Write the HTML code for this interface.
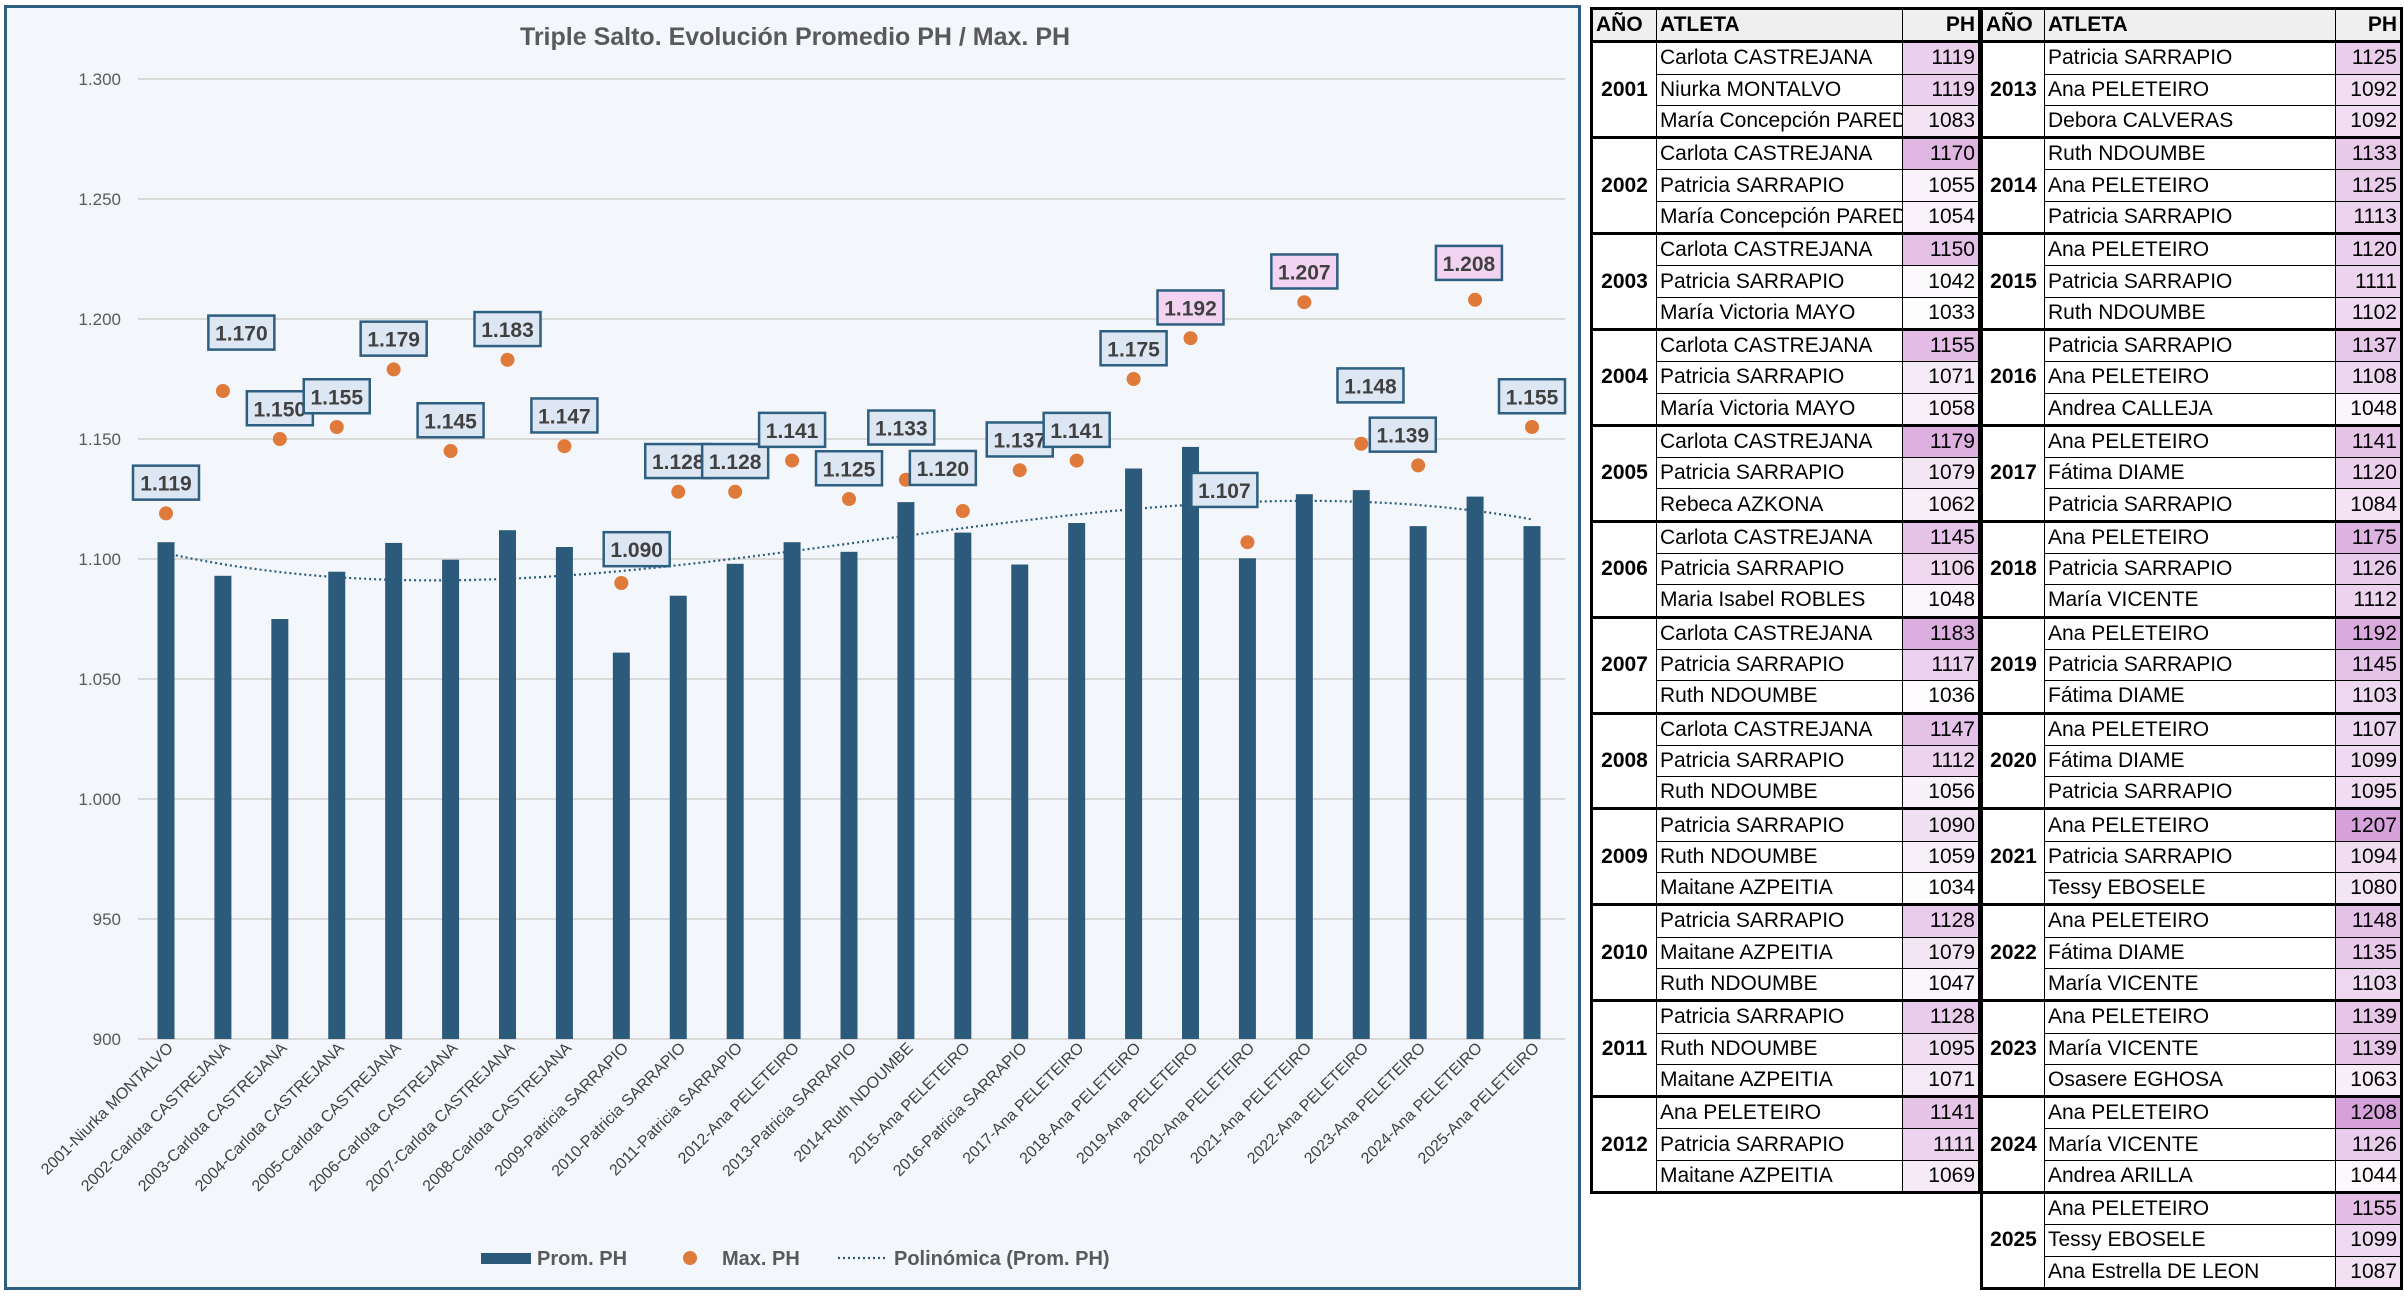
<!DOCTYPE html>
<html><head><meta charset="utf-8">
<style>
html,body{margin:0;padding:0;background:#fff;}
body{width:2404px;height:1302px;position:relative;overflow:hidden;font-family:"Liberation Sans Narrow","Liberation Sans",sans-serif;}
#chart{position:absolute;left:4px;top:5px;width:1577px;height:1285px;border:3px solid #2e5f80;background:#f3f7fb;box-sizing:border-box;}
table{position:absolute;border-collapse:collapse;table-layout:fixed;font-family:"Liberation Sans Narrow","Liberation Sans",sans-serif;font-size:21px;color:#000;}
td,th{border:1.5px solid #000;height:30.3px;padding:0 3px;white-space:nowrap;overflow:hidden;line-height:28px;}
th{background:#efefef;font-weight:bold;text-align:left;}
th.ph,td.ph{text-align:right;}
td.yr{font-weight:bold;text-align:center;border-top:3px solid #000;border-bottom:3px solid #000;}
tr.g td{border-top:3px solid #000;}
</style></head>
<body>
<div id="chart">
<svg id="svg" width="1571" height="1279" xmlns="http://www.w3.org/2000/svg"></svg>
</div>
<table id="t1" style="left:1590px;top:7px;width:391px;border:3px solid #000;">
<colgroup><col style="width:65px"><col style="width:246px"><col style="width:77px"></colgroup>
</table>
<table id="t2" style="left:1980px;top:7px;width:422px;border:3px solid #000;">
<colgroup><col style="width:63px"><col style="width:291px"><col style="width:66px"></colgroup>
</table>
<script>
const years=["2001","2002","2003","2004","2005","2006","2007","2008","2009","2010","2011","2012","2013","2014","2015","2016","2017","2018","2019","2020","2021","2022","2023","2024","2025"];
const athletes=["Niurka MONTALVO","Carlota CASTREJANA","Carlota CASTREJANA","Carlota CASTREJANA","Carlota CASTREJANA","Carlota CASTREJANA","Carlota CASTREJANA","Carlota CASTREJANA","Patricia SARRAPIO","Patricia SARRAPIO","Patricia SARRAPIO","Ana PELETEIRO","Patricia SARRAPIO","Ruth NDOUMBE","Ana PELETEIRO","Patricia SARRAPIO","Ana PELETEIRO","Ana PELETEIRO","Ana PELETEIRO","Ana PELETEIRO","Ana PELETEIRO","Ana PELETEIRO","Ana PELETEIRO","Ana PELETEIRO","Ana PELETEIRO"];
const promPH=[1107,1093,1075,1094.7,1106.7,1099.7,1112,1105,1061,1084.7,1098,1107,1103,1123.7,1111,1097.7,1115,1137.7,1146.7,1100.3,1127,1128.7,1113.7,1126,1113.7];
const maxPH=[1119,1170,1150,1155,1179,1145,1183,1147,1090,1128,1128,1141,1125,1133,1120,1137,1141,1175,1192,1107,1207,1148,1139,1208,1155];
const yTicks=[900,950,1000,1050,1100,1150,1200,1250,1300];
const yTickLabels=["900","950","1.000","1.050","1.100","1.150","1.200","1.250","1.300"];
// label layout offsets (display layout, not data)
const labDx=[0,12,0,0,0,0,0,0,10,0,0,0,0,-3,-13,0,0,0,0,-15,0,6,-10,-4,0];
const labDy=[-20,-38,-20,-20,-20,-20,-20,-20,-22,-20,-20,-20,-20,-34,-28,-20,-20,-20,-20,-34,-20,-38,-20,-24,-20];

const NS="http://www.w3.org/2000/svg";
const svg=document.getElementById('svg');
const OX=7,OY=8;
const plotL=138-OX, plotR=1565-OX;
const yMin=900,yMax=1300, yTop=79-OY, yBot=1039-OY;
function y(v){return yBot-(v-yMin)/(yMax-yMin)*(yBot-yTop);}
const x0=166-OX, x1=1532-OX;
function x(i){return x0+i*(x1-x0)/(years.length-1);}
function mk(tag,attrs,parent){const e=document.createElementNS(NS,tag);for(const k in attrs)e.setAttribute(k,attrs[k]);(parent||svg).appendChild(e);return e;}

let t=mk('text',{x:795-OX,y:45-OY,'text-anchor':'middle','font-size':25,'font-weight':'bold',fill:'#595959'});
t.textContent='Triple Salto. Evolución Promedio PH / Max. PH';



yTicks.forEach((v,i)=>{
  const g=mk('line',{x1:plotL,x2:plotR,y1:y(v),y2:y(v),stroke:'#d9d9d9','stroke-width':2});
  
  
  const l=mk('text',{x:121-OX,y:y(v)+6,'text-anchor':'end','font-size':17,fill:'#595959'});
  l.textContent=yTickLabels[i];
  
  
});

promPH.forEach((v,i)=>{
  const b=mk('rect',{x:x(i)-8.5,y:y(v),width:17,height:yBot-y(v),fill:'#2c5a7b'});
  
  
  const l=mk('text',{x:x(i)+8,y:yBot+10,'text-anchor':'end','font-size':16,fill:'#404040',transform:`rotate(-45 ${x(i)+8} ${yBot+10})`});
  l.textContent=years[i]+'-'+athletes[i];
  
  
});

(function(){
  const n=promPH.length, deg=3, m=deg+1;
  const A=[];for(let r=0;r<m;r++){A.push(new Array(m+1).fill(0));}
  for(let i=0;i<n;i++){const xi=(i+1)/n;for(let r=0;r<m;r++){for(let c=0;c<m;c++)A[r][c]+=Math.pow(xi,r+c);A[r][m]+=promPH[i]*Math.pow(xi,r);}}
  for(let c=0;c<m;c++){let p=c;for(let r=c+1;r<m;r++)if(Math.abs(A[r][c])>Math.abs(A[p][c]))p=r;[A[c],A[p]]=[A[p],A[c]];
    for(let r=0;r<m;r++){if(r===c)continue;const f=A[r][c]/A[c][c];for(let k=c;k<=m;k++)A[r][k]-=f*A[c][k];}}
  const co=A.map((r,i)=>r[m]/r[i]);
  let d='';
  for(let s=0;s<=200;s++){const fi=s/200*(n-1);const xi=(fi+1)/n;let v=0;for(let k=0;k<m;k++)v+=co[k]*Math.pow(xi,k);
    const px=x0+fi*(x1-x0)/(n-1);d+=(s?'L':'M')+px.toFixed(1)+' '+y(v).toFixed(1);}
  const p=mk('path',{d:d,fill:'none',stroke:'#2c5a7b','stroke-width':2.2,'stroke-dasharray':'2 3'});
  
  
})();

maxPH.forEach((v,i)=>{
  const c=mk('circle',{cx:x(i),cy:y(v),r:7,fill:'#e07a3a'});
  
  
});
maxPH.forEach((v,i)=>{
  const cx=x(i)+labDx[i]*1.537, cy=y(v)+labDy[i]*1.537;
  const hi=v>=1190;
  const r=mk('rect',{x:cx-33,y:cy-17,width:66,height:34,fill:hi?'#f2d3f2':'#dde7f3',stroke:'#2e5f80','stroke-width':2.5});
  
  
  const l=mk('text',{x:cx,y:cy+8,'text-anchor':'middle','font-size':21,'font-weight':'bold',fill:'#404040'});
  l.textContent=(v/1000).toFixed(3);
  
  
});

const LY=1258-OY;
let lg=mk('rect',{x:481-OX,y:LY-5,width:50,height:11,fill:'#2c5a7b'});


let lt=mk('text',{x:537-OX,y:LY+7,'font-size':20,'font-weight':'bold',fill:'#595959'});lt.textContent='Prom. PH';


lg=mk('circle',{cx:690-OX,cy:LY,r:7,fill:'#e07a3a'});


lt=mk('text',{x:722-OX,y:LY+7,'font-size':20,'font-weight':'bold',fill:'#595959'});lt.textContent='Max. PH';


lg=mk('line',{x1:838-OX,x2:888-OX,y1:LY,y2:LY,stroke:'#2c5a7b','stroke-width':2.2,'stroke-dasharray':'2 3'});


lt=mk('text',{x:894-OX,y:LY+7,'font-size':20,'font-weight':'bold',fill:'#595959'});lt.textContent='Polinómica (Prom. PH)';



const tableRows={
"2001":[["Carlota CASTREJANA",1119],["Niurka MONTALVO",1119],["María Concepción PAREDES",1083]],
"2002":[["Carlota CASTREJANA",1170],["Patricia SARRAPIO",1055],["María Concepción PAREDES",1054]],
"2003":[["Carlota CASTREJANA",1150],["Patricia SARRAPIO",1042],["María Victoria MAYO",1033]],
"2004":[["Carlota CASTREJANA",1155],["Patricia SARRAPIO",1071],["María Victoria MAYO",1058]],
"2005":[["Carlota CASTREJANA",1179],["Patricia SARRAPIO",1079],["Rebeca AZKONA",1062]],
"2006":[["Carlota CASTREJANA",1145],["Patricia SARRAPIO",1106],["Maria Isabel ROBLES",1048]],
"2007":[["Carlota CASTREJANA",1183],["Patricia SARRAPIO",1117],["Ruth NDOUMBE",1036]],
"2008":[["Carlota CASTREJANA",1147],["Patricia SARRAPIO",1112],["Ruth NDOUMBE",1056]],
"2009":[["Patricia SARRAPIO",1090],["Ruth NDOUMBE",1059],["Maitane AZPEITIA",1034]],
"2010":[["Patricia SARRAPIO",1128],["Maitane AZPEITIA",1079],["Ruth NDOUMBE",1047]],
"2011":[["Patricia SARRAPIO",1128],["Ruth NDOUMBE",1095],["Maitane AZPEITIA",1071]],
"2012":[["Ana PELETEIRO",1141],["Patricia SARRAPIO",1111],["Maitane AZPEITIA",1069]],
"2013":[["Patricia SARRAPIO",1125],["Ana PELETEIRO",1092],["Debora CALVERAS",1092]],
"2014":[["Ruth NDOUMBE",1133],["Ana PELETEIRO",1125],["Patricia SARRAPIO",1113]],
"2015":[["Ana PELETEIRO",1120],["Patricia SARRAPIO",1111],["Ruth NDOUMBE",1102]],
"2016":[["Patricia SARRAPIO",1137],["Ana PELETEIRO",1108],["Andrea CALLEJA",1048]],
"2017":[["Ana PELETEIRO",1141],["Fátima DIAME",1120],["Patricia SARRAPIO",1084]],
"2018":[["Ana PELETEIRO",1175],["Patricia SARRAPIO",1126],["María VICENTE",1112]],
"2019":[["Ana PELETEIRO",1192],["Patricia SARRAPIO",1145],["Fátima DIAME",1103]],
"2020":[["Ana PELETEIRO",1107],["Fátima DIAME",1099],["Patricia SARRAPIO",1095]],
"2021":[["Ana PELETEIRO",1207],["Patricia SARRAPIO",1094],["Tessy EBOSELE",1080]],
"2022":[["Ana PELETEIRO",1148],["Fátima DIAME",1135],["María VICENTE",1103]],
"2023":[["Ana PELETEIRO",1139],["María VICENTE",1139],["Osasere EGHOSA",1063]],
"2024":[["Ana PELETEIRO",1208],["María VICENTE",1126],["Andrea ARILLA",1044]],
"2025":[["Ana PELETEIRO",1155],["Tessy EBOSELE",1099],["Ana Estrella DE LEON",1087]]};
function shade(v){const f=Math.max(0,Math.min(1,(v-1030)/(1210-1030)));
  const r=Math.round(255-f*(255-214)),g=Math.round(255-f*(255-160)),b=Math.round(255-f*(255-218));return `rgb(${r},${g},${b})`;}
function build(id,ys){
  const tb=document.getElementById(id);
  let h='<tr><th>AÑO</th><th>ATLETA</th><th class="ph">PH</th></tr>';
  ys.forEach(yr=>{tableRows[yr].forEach((r,k)=>{
    h+=`<tr class="${k===0?'g':''}">`+(k===0?`<td class="yr" rowspan="3">${yr}</td>`:'')+
    `<td>${r[0]}</td><td class="ph" style="background:${shade(r[1])}">${r[1]}</td></tr>`;});});
  tb.insertAdjacentHTML('beforeend',h);
}
build('t1',years.slice(0,12));
build('t2',years.slice(12));
</script>
</body></html>
